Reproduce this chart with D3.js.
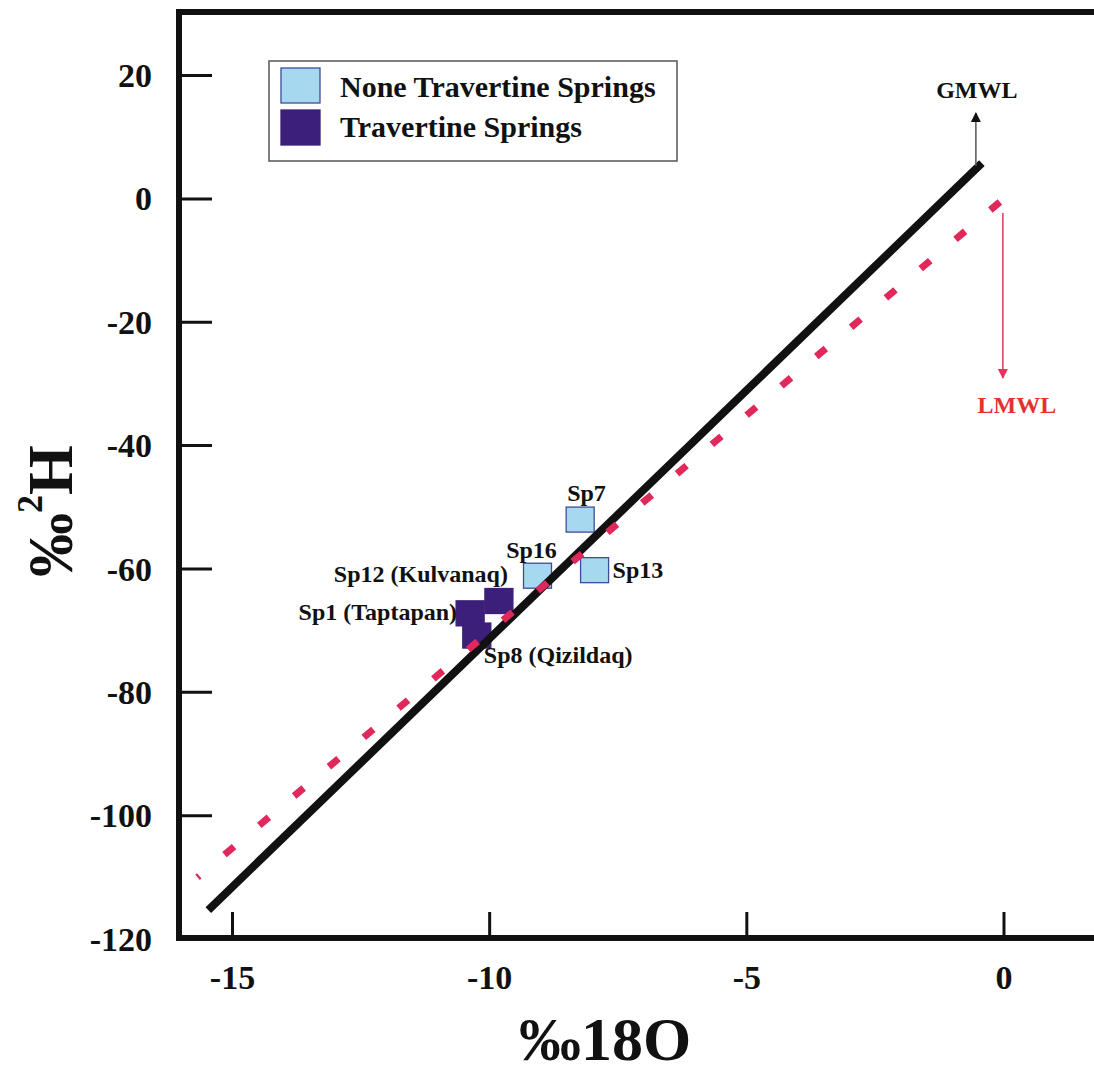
<!DOCTYPE html>
<html>
<head>
<meta charset="utf-8">
<script src="https://cdn.jsdelivr.net/npm/d3@7"></script>
<style>
  body { margin: 0; background: #fff; }
  text { font-family: "Liberation Serif", "Times New Roman", serif; font-weight: bold; }
</style>
</head>
<body>
<div id="chart"></div>
<script>
// Sample values (δ18O, δ2H in ‰)
const sampleNames = ['Sp7', 'Sp16', 'Sp13', 'Sp12 (Kulvanaq)', 'Sp1 (Taptapan)', 'Sp8 (Qizildaq)'];
const sampleO18 = [-8.24, -9.07, -7.96, -9.82, -10.38, -10.25];
const sampleH2 = [-52.0, -61.1, -60.2, -65.2, -67.2, -70.8];
const sampleGroup = ['none', 'none', 'none', 'trav', 'trav', 'trav'];

// Meteoric water lines, end points
const gmwlO18 = [-15.47, -0.43];
const gmwlH2 = [-115.3, 5.8];
const lmwlO18 = [-15.68, -0.08];
const lmwlH2 = [-110.0, -0.5];

// Ticks
const xTicks = [-15, -10, -5, 0];
const yTicks = [20, 0, -20, -40, -60, -80, -100, -120];

const legendLabels = ['None Travertine Springs', 'Travertine Springs'];
const legendGroups = ['none', 'trav'];

// Label placement next to each sample square
const labelPos = {
    'Sp7': { dx: -13, dy: -19, anchor: 'start' },
    'Sp16': { dx: -6, dy: -18, anchor: 'middle' },
    'Sp13': { dx: 18, dy: 8, anchor: 'start' },
    'Sp12 (Kulvanaq)': { dx: 9, dy: -19, anchor: 'end' },
    'Sp1 (Taptapan)': { dx: -13, dy: 7, anchor: 'end' },
    'Sp8 (Qizildaq)': { dx: 7, dy: 27, anchor: 'start' }
};

const fillColor = { none: '#a6d9f0', trav: '#3b1f78' };
const strokeColor = { none: '#3d4c98', trav: '#3b1f78' };

const width = 1094, height = 1074;
const frame = { left: 179, top: 12, bottom: 938 };

const svg = d3.select('#chart')
    .append('svg')
    .attr('width', width)
    .attr('height', height);

const xScale = d3.scaleLinear()
    .domain([-16.04, 1.75])
    .range([frame.left, width]);

const yScale = d3.scaleLinear()
    .domain([-120, 30.3])
    .range([939, frame.top]);

// Arrow markers
const defs = svg.append('defs');
[['arrowBlack', '#111'], ['arrowRed', '#e3345a']].forEach(([id, c]) => {
    defs.append('marker')
        .attr('id', id)
        .attr('viewBox', '0 0 10 10')
        .attr('refX', 9)
        .attr('refY', 5)
        .attr('markerWidth', 10)
        .attr('markerHeight', 10)
        .attr('markerUnits', 'userSpaceOnUse')
        .attr('orient', 'auto')
        .append('path')
        .attr('d', 'M0,0 L10,5 L0,10 Z')
        .attr('fill', c);
});

// Sample squares
const samples = sampleNames.map((n, i) => ({
    name: n, x: sampleO18[i], y: sampleH2[i], group: sampleGroup[i]
}));

svg.selectAll('.pt')
    .data(samples)
    .join('rect')
        .attr('class', 'pt')
        .attr('x', d => xScale(d.x) - 14)
        .attr('y', d => yScale(d.y) - 12.5)
        .attr('width', 28)
        .attr('height', 25)
        .attr('fill', d => fillColor[d.group])
        .attr('stroke', d => strokeColor[d.group])
        .attr('stroke-width', 1.3);

svg.selectAll('.pt-label')
    .data(samples)
    .join('text')
        .attr('class', 'pt-label')
        .attr('x', d => xScale(d.x) + labelPos[d.name].dx)
        .attr('y', d => yScale(d.y) + labelPos[d.name].dy)
        .attr('text-anchor', d => labelPos[d.name].anchor)
        .attr('font-size', 24)
        .attr('fill', '#111')
        .text(d => d.name);

// GMWL (solid black) and LMWL (dashed red)
const line = d3.line().x(d => xScale(d[0])).y(d => yScale(d[1]));

svg.append('path')
    .attr('d', line(d3.zip(gmwlO18, gmwlH2)))
    .attr('stroke', '#111')
    .attr('stroke-width', 8)
    .attr('fill', 'none');

// drawn from the upper end so the pattern starts with a full dash there
svg.append('path')
    .attr('d', line(d3.zip(lmwlO18, lmwlH2).reverse()))
    .attr('stroke', '#e0285a')
    .attr('stroke-width', 7)
    .attr('stroke-dasharray', '12.5,33')
    .attr('fill', 'none');

// Arrows and line names
const gx = xScale(gmwlO18[1]) - 6, gy = yScale(gmwlH2[1]) + 3;
svg.append('line')
    .attr('x1', gx).attr('y1', gy)
    .attr('x2', gx).attr('y2', 113)
    .attr('stroke', '#555')
    .attr('stroke-width', 1.5)
    .attr('marker-end', 'url(#arrowBlack)');
svg.append('text')
    .attr('x', gx + 1).attr('y', 98)
    .attr('text-anchor', 'middle')
    .attr('font-size', 24)
    .attr('fill', '#111')
    .text('GMWL');

const lx = xScale(lmwlO18[1]) + 3, ly = yScale(lmwlH2[1]) + 11;
svg.append('line')
    .attr('x1', lx).attr('y1', ly)
    .attr('x2', lx).attr('y2', 378)
    .attr('stroke', '#e3345a')
    .attr('stroke-width', 1.5)
    .attr('marker-end', 'url(#arrowRed)');
svg.append('text')
    .attr('x', lx + 14).attr('y', 413)
    .attr('text-anchor', 'middle')
    .attr('font-size', 24)
    .attr('fill', '#e3322e')
    .text('LMWL');

// Frame (left, top and bottom sides; right side runs off the page)
svg.append('path')
    .attr('d', `M${width + 10},${frame.top} H${frame.left} V${frame.bottom} H${width + 10}`)
    .attr('stroke', '#111')
    .attr('stroke-width', 6)
    .attr('fill', 'none');

// Y ticks and labels
svg.selectAll('.ytick')
    .data(yTicks.filter(d => d !== -120))
    .join('line')
        .attr('class', 'ytick')
        .attr('x1', frame.left)
        .attr('x2', 212)
        .attr('y1', d => yScale(d))
        .attr('y2', d => yScale(d))
        .attr('stroke', '#111')
        .attr('stroke-width', 3);

svg.selectAll('.ylab')
    .data(yTicks)
    .join('text')
        .attr('class', 'ylab')
        .attr('x', 152)
        .attr('y', d => yScale(d))
        .attr('dy', '0.34em')
        .attr('text-anchor', 'end')
        .attr('font-size', 34)
        .attr('fill', '#111')
        .text(d => d);

// X ticks and labels
svg.selectAll('.xtick')
    .data(xTicks)
    .join('line')
        .attr('class', 'xtick')
        .attr('x1', d => xScale(d))
        .attr('x2', d => xScale(d))
        .attr('y1', frame.bottom)
        .attr('y2', 912)
        .attr('stroke', '#111')
        .attr('stroke-width', 3);

svg.selectAll('.xlab')
    .data(xTicks)
    .join('text')
        .attr('class', 'xlab')
        .attr('x', d => xScale(d))
        .attr('y', 989)
        .attr('text-anchor', 'middle')
        .attr('font-size', 34)
        .attr('fill', '#111')
        .text(d => d);

// Axis titles
svg.append('text')
    .attr('x', 605)
    .attr('y', 1060)
    .attr('text-anchor', 'middle')
    .attr('font-size', 62)
    .attr('fill', '#111')
    .text('‰18O');

const yTitle = svg.append('text')
    .attr('transform', 'translate(72, 511) rotate(-90)')
    .attr('text-anchor', 'middle')
    .attr('font-size', 64)
    .attr('fill', '#111');
yTitle.append('tspan').text('‰');
yTitle.append('tspan').attr('font-size', 36).attr('dy', -30).text('2');
yTitle.append('tspan').attr('dy', 30).text('H');

// Legend
const legend = svg.append('g');
legend.append('rect')
    .attr('x', 269).attr('y', 61)
    .attr('width', 408).attr('height', 100)
    .attr('fill', '#fff')
    .attr('stroke', '#555')
    .attr('stroke-width', 1.5);

legend.selectAll('.lg-box')
    .data(legendGroups)
    .join('rect')
        .attr('class', 'lg-box')
        .attr('x', 281)
        .attr('y', (d, i) => 68 + i * 42)
        .attr('width', 39)
        .attr('height', 35)
        .attr('fill', d => fillColor[d])
        .attr('stroke', d => strokeColor[d])
        .attr('stroke-width', 1.3);

legend.selectAll('.lg-text')
    .data(legendLabels)
    .join('text')
        .attr('class', 'lg-text')
        .attr('x', 340)
        .attr('y', (d, i) => 97 + i * 40)
        .attr('font-size', 30)
        .attr('fill', '#111')
        .text(d => d);
</script>
</body>
</html>
